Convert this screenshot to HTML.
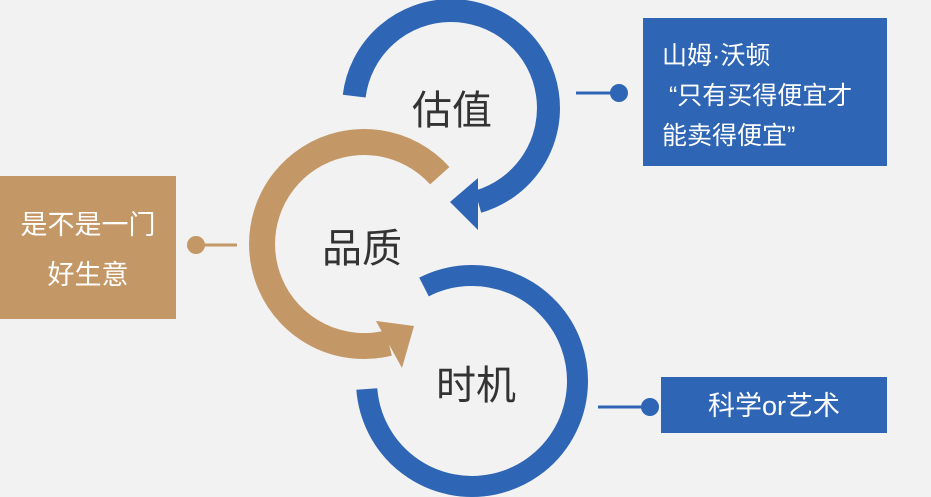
<!DOCTYPE html>
<html><head><meta charset="utf-8"><style>
html,body{margin:0;padding:0;background:#f2f2f2;}
body{width:931px;height:497px;overflow:hidden;position:relative;font-family:"Liberation Sans","Noto Sans CJK SC",sans-serif;}
.box{position:absolute;color:#fff;font-size:25px;}
</style></head><body>
<svg width="931" height="497" style="position:absolute;left:0;top:0">
<g fill="none" stroke-linecap="butt">
<path d="M354.2,96.1 A97.5,97.5 0 1 1 478,201.7" stroke="#2e65b5" stroke-width="23"/>
<path d="M439.8,175.7 A102,102 0 1 0 388.7,343" stroke="#c49766" stroke-width="26"/>
<path d="M424,287 A105.5,105.5 0 1 1 366.8,389" stroke="#2e65b5" stroke-width="21"/>
</g>
<polygon points="478,178 478,230 450,202" fill="#2e65b5"/>
<polygon points="376,321 414,326 402,368" fill="#c49766"/>
<g font-family="Liberation Sans, Noto Sans CJK SC, sans-serif" font-size="40" fill="#333" text-anchor="middle">
<text x="452" y="124">估值</text>
<text x="362" y="262">品质</text>
<text x="476" y="399">时机</text>
</g>
<line x1="576" y1="93" x2="615" y2="93" stroke="#2e65b5" stroke-width="3"/>
<circle cx="619" cy="93" r="9" fill="#2e65b5"/>
<line x1="196" y1="245" x2="237" y2="245" stroke="#c49766" stroke-width="3"/>
<circle cx="196" cy="245" r="9" fill="#c49766"/>
<line x1="598" y1="407" x2="646" y2="407" stroke="#2e65b5" stroke-width="3"/>
<circle cx="650" cy="407" r="9" fill="#2e65b5"/>
</svg>
<div class="box" style="left:643px;top:18px;width:244px;height:148px;background:#2e65b5;">
<div style="position:absolute;left:19px;top:18px;line-height:40px;white-space:nowrap">山姆·沃顿<br>&nbsp;“只有买得便宜才<br>能卖得便宜”</div>
</div>
<div class="box" style="left:0;top:176px;width:176px;height:143px;background:#c49766;text-align:center;line-height:50px;font-size:27px;">
<div style="padding-top:24px">是不是一门<br>好生意</div>
</div>
<div class="box" style="left:661px;top:377px;width:226px;height:56px;background:#2e65b5;text-align:center;line-height:58px;font-size:27px;">科学or艺术</div>
</body></html>
